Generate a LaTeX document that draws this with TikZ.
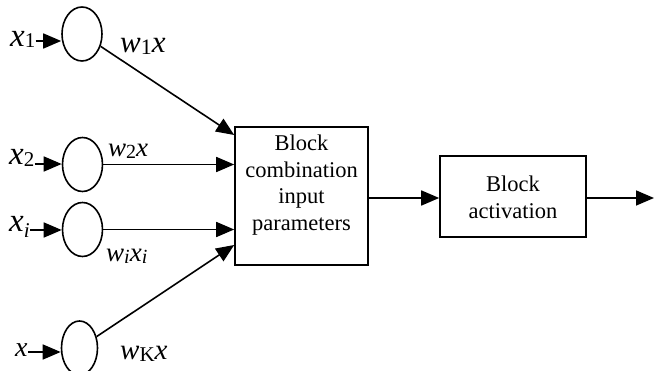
\documentclass[tikz,border=0pt]{standalone}
\usepackage{fontspec}
\setmainfont{Liberation Serif}[ItalicFont={* Italic},BoldFont={* Bold}]
\usetikzlibrary{shapes.geometric,arrows.meta}
% font size helper and lowered subscript helper: \lsub{drop}{size}{text}
\newcommand\fs[1]{\fontsize{#1}{#1}\selectfont}
\newcommand\lsub[3]{\raisebox{-#1pt}{\fs{#2}#3}}
\newcommand\iv[1]{{\itshape #1}}

\begin{document}
\begin{tikzpicture}[x=1pt,y=-1pt,
  arr/.style={line width=1.6pt,-{Triangle[length=18pt,width=15pt]}},
  neuron/.style={draw,line width=1.6pt,ellipse,minimum width=40pt,minimum height=54pt,inner sep=0pt},
  blockbox/.style={draw,line width=1.6pt,rectangle,inner sep=0pt},
  blocktext/.style={font=\fontsize{22.5}{26.7}\selectfont,align=center,inner sep=0pt},
  lab/.style={inner sep=0pt,anchor=base west}]
\useasboundingbox (0,0) rectangle (654,371);

% input neurons
\node[neuron] (c1) at (82,34) {};
\node[neuron] (c2) at (82.5,164.5) {};
\node[neuron] (ci) at (82.5,229.5) {};
\node[neuron,minimum width=36pt] (cK) at (79.5,348) {};

% processing blocks
\node[blockbox,minimum width=133pt,minimum height=138pt] (b1) at (301.5,196) {};
\node[blocktext] (b1t) at (301.5,185) {Block\\combination\\input\\parameters};
\node[blockbox,minimum width=146pt,minimum height=81pt] (b2) at (513,196.5) {};
\node[blocktext] (b2t) at (513,197) {Block\\activation};

% input labels
\node[lab,font=\fs{33}] (lx1) at (10,47) {\iv{x}\lsub{1}{21}{1}};
\node[lab,font=\fs{33}] (lx2) at (9,165) {\iv{x}\lsub{2}{21}{2}};
\node[lab,font=\fs{33}] (lxi) at (9,232) {\iv{x}\lsub{6}{21}{\iv{i}}};
\node[lab,font=\fs{28}] (lxK) at (15,357) {\iv{x}};

% weighted signal labels
\node[lab,font=\fs{31}] (w1) at (120,53) {\iv{w}\lsub{2}{22}{1}\iv{x}};
\node[lab,font=\fs{27}] (w2) at (108,157) {\iv{w}\lsub{2}{20}{2}\iv{x}};
\node[lab,font=\fs{27}] (wi) at (106,262) {\iv{w}\lsub{2}{20}{\iv{i}}\iv{x}\lsub{2}{20}{\iv{i}}};
\node[lab,font=\fs{29}] (wK) at (120,360) {\iv{w}\lsub{2}{21}{K}\iv{x}};

% inputs into neurons
\draw[arr] (lx1.east |- 0,41) -- (c1.west |- 0,41);
\draw[arr] (lx2.east |- 0,164) -- (c2.west |- 0,164);
\draw[arr] (lxi.east |- 0,230) -- (ci.west |- 0,230);
\draw[arr] (lxK.east |- 0,352) -- (cK.west |- 0,352);

% neurons into the combination block
\draw[arr] (c1) -- (b1.west |- 0,135);
\draw[arr] (c2) -- (b1.west |- 0,164.5);
\draw[arr] (ci) -- (b1.west |- 0,229.5);
\draw[arr] (cK) -- (b1.west |- 0,245);

% block chain and output
\coordinate (out) at (654,198);
\draw[arr] (b1.east |- out) -- (b2.west |- out);
\draw[arr] (b2.east |- out) -- (out);
\end{tikzpicture}
\end{document}
